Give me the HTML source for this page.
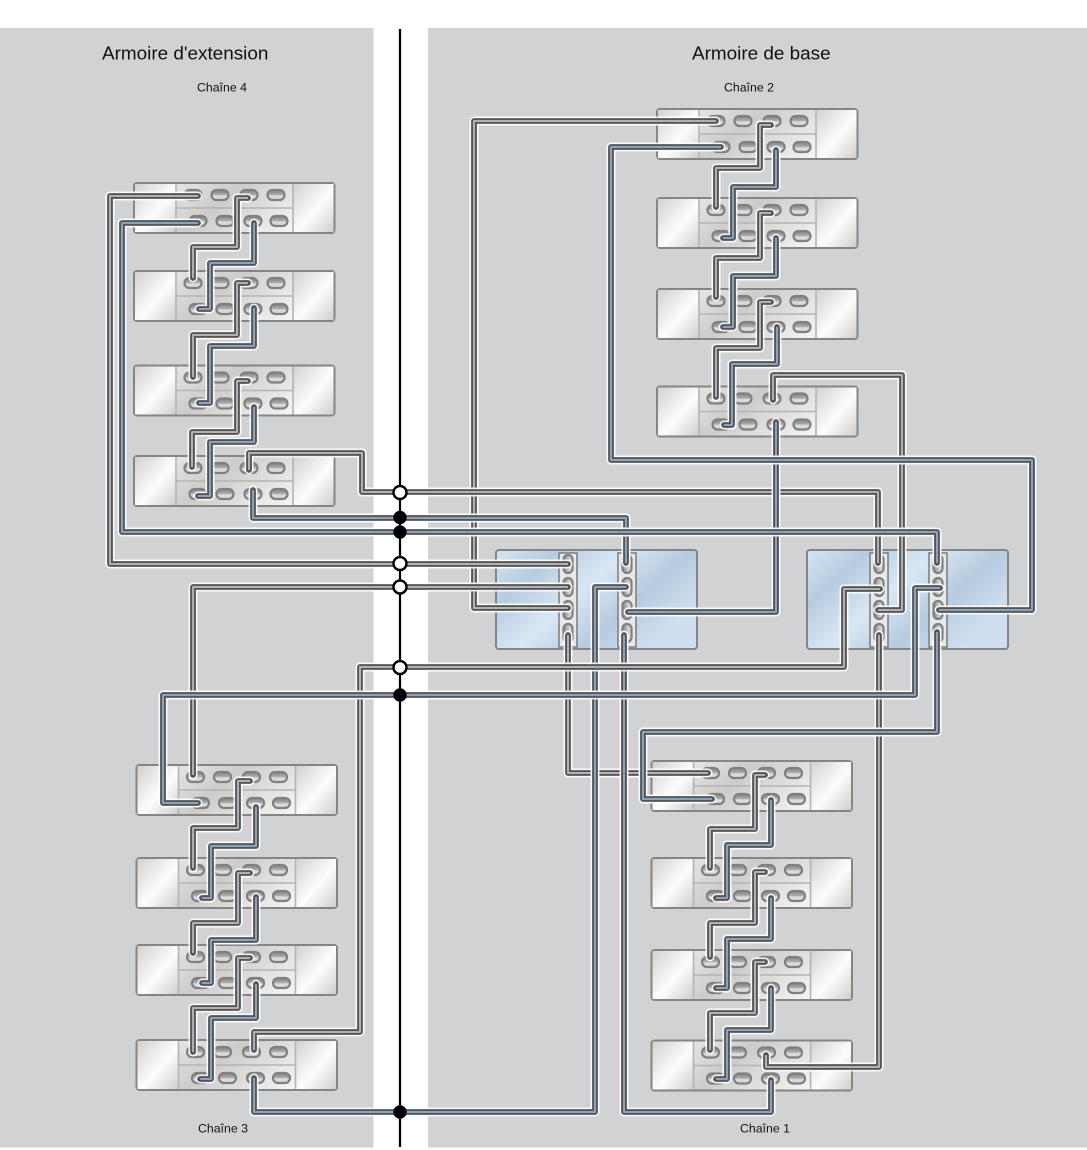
<!DOCTYPE html>
<html><head><meta charset="utf-8"><title>Armoire</title>
<style>
html,body{margin:0;padding:0;background:#fff}
svg{display:block}
text{font-family:"Liberation Sans",sans-serif;fill:#111}
.h,.d,.g,.b{fill:none;stroke-linejoin:round;stroke-linecap:round}
.h{stroke:#fff;stroke-width:9;stroke-opacity:.88}
.d{stroke:#55575b;stroke-width:5.8}
.g{stroke:#b0b0b2;stroke-width:2;stroke-linecap:butt}
.b{stroke:#8aa3bb;stroke-width:2;stroke-linecap:butt}
</style></head><body>
<svg xmlns="http://www.w3.org/2000/svg" width="1087" height="1150" viewBox="0 0 1087 1150">
<defs>
<linearGradient id="m" x1="0" y1="0" x2="1" y2="1"><stop offset="0" stop-color="#d2d1cf"/><stop offset=".55" stop-color="#fdfdfd"/><stop offset="1" stop-color="#cfcecc"/></linearGradient>
<linearGradient id="c" x1="0" y1="0" x2="1" y2=".3"><stop offset="0" stop-color="#f5f5f5"/><stop offset=".5" stop-color="#cdccca"/><stop offset="1" stop-color="#f6f6f6"/></linearGradient>
<linearGradient id="p" x1="0" y1="0" x2="0" y2="1"><stop offset="0" stop-color="#808080"/><stop offset=".45" stop-color="#aaa"/><stop offset=".6" stop-color="#ddd"/><stop offset="1" stop-color="#d4d4d4"/></linearGradient>
<linearGradient id="pv" x1="0" y1="0" x2="1" y2="0"><stop offset="0" stop-color="#808080"/><stop offset=".5" stop-color="#c0c0c0"/><stop offset="1" stop-color="#eee"/></linearGradient>
<linearGradient id="hb" x1="0" y1="0" x2="1" y2=".55"><stop offset="0" stop-color="#d6e5f3"/><stop offset=".24" stop-color="#b7cce0"/><stop offset=".5" stop-color="#d9e7f4"/><stop offset=".75" stop-color="#b6cbdf"/><stop offset="1" stop-color="#cfdff0"/></linearGradient>
<g id="po"><rect x="-8.500" y="-5" width="17" height="10" rx="5" fill="url(#p)" stroke="#808080" stroke-width="2.200"/></g>
<g id="pw"><rect x="-4.500" y="-9" width="9" height="18" rx="4.500" fill="url(#pv)" stroke="#808080" stroke-width="2.200"/></g>
<g id="s">
<rect x="0" y="0" width="200.500" height="50" rx="3" fill="url(#c)" stroke="#858585" stroke-width="2"/>
<rect x="1" y="1" width="41" height="48" fill="url(#m)"/>
<rect x="159" y="1" width="40.500" height="48" fill="url(#m)"/>
<path d="M42 1V49M159 1V49M42 25H159" stroke="#b4b4b4" stroke-width="1.600" fill="none"/>
<use href="#po" x="59" y="12"/><use href="#po" x="86" y="12"/><use href="#po" x="115" y="12"/><use href="#po" x="142" y="12"/>
<use href="#po" x="64" y="38"/><use href="#po" x="91" y="38"/><use href="#po" x="119" y="38"/><use href="#po" x="145" y="38"/>
</g>
<g id="hba">
<rect x="0" y="0" width="201" height="99" rx="3" fill="url(#hb)" stroke="#858585" stroke-width="2"/>
<rect x="63" y="3" width="18" height="94" fill="#e6e8ea" stroke="#7a7a7a" stroke-width="1.500"/>
<rect x="122" y="3" width="18" height="94" fill="#e6e8ea" stroke="#7a7a7a" stroke-width="1.500"/>
<use href="#pw" x="72" y="14"/><use href="#pw" x="72" y="37"/><use href="#pw" x="72" y="60"/><use href="#pw" x="72" y="83"/>
<use href="#pw" x="131" y="14"/><use href="#pw" x="131" y="37"/><use href="#pw" x="131" y="60"/><use href="#pw" x="131" y="83"/>
</g>
</defs>
<rect x="0" y="28" width="373.500" height="1119.500" fill="#d1d2d4"/>
<rect x="428" y="28" width="659" height="1119.500" fill="#d1d2d4"/>
<text x="102" y="59.500" font-size="18.900">Armoire d'extension</text>
<text x="692" y="59.500" font-size="18.900">Armoire de base</text>
<text x="197" y="91.500" font-size="12.300">Chaîne 4</text>
<text x="724" y="91.500" font-size="12.300">Chaîne 2</text>
<text x="198" y="1132.500" font-size="12.300">Chaîne 3</text>
<text x="740" y="1132.500" font-size="12.300">Chaîne 1</text>

<use href="#s" x="657" y="109"/><use href="#s" x="657" y="198"/><use href="#s" x="657" y="289"/><use href="#s" x="657" y="386.500"/>
<use href="#s" x="134" y="183"/><use href="#s" x="134" y="271"/><use href="#s" x="134" y="365.500"/><use href="#s" x="134" y="456"/>
<use href="#s" x="136.500" y="765"/><use href="#s" x="136.500" y="858"/><use href="#s" x="136.500" y="945"/><use href="#s" x="136.500" y="1040"/>
<use href="#s" x="651.500" y="761"/><use href="#s" x="651.500" y="858"/><use href="#s" x="651.500" y="950"/><use href="#s" x="651.500" y="1040.500"/>
<use href="#hba" x="496" y="550"/><use href="#hba" x="807" y="550"/>

<path class="h" d="M568 635V773H708"/><path class="d" d="M568 635V773H708"/><path class="g" d="M568 635V773H708"/>
<path class="h" d="M716 121H474V608H568"/><path class="d" d="M716 121H474V608H568"/><path class="g" d="M716 121H474V608H568"/>
<path class="h" d="M568 587H193V775"/><path class="d" d="M568 587H193V775"/><path class="g" d="M568 587H193V775"/>
<path class="h" d="M198 196H110V564H568"/><path class="d" d="M198 196H110V564H568"/><path class="g" d="M198 196H110V564H568"/>
<path class="h" d="M249 470V453H362V492H878V563"/><path class="d" d="M249 470V453H362V492H878V563"/><path class="g" d="M249 470V453H362V492H878V563"/>
<path class="h" d="M253 490V518H626V563"/><path class="d" d="M253 490V518H626V563"/><path class="b" d="M253 490V518H626V563"/>
<path class="h" d="M626 587H595V1112H254V1078"/><path class="d" d="M626 587H595V1112H254V1078"/><path class="b" d="M626 587H595V1112H254V1078"/>
<path class="h" d="M624 635V1112H771V1080"/><path class="d" d="M624 635V1112H771V1080"/><path class="b" d="M624 635V1112H771V1080"/>
<path class="h" d="M776 422V612H628"/><path class="d" d="M776 422V612H628"/><path class="b" d="M776 422V612H628"/>
<path class="h" d="M773 400V375H902V610H878"/><path class="d" d="M773 400V375H902V610H878"/><path class="g" d="M773 400V375H902V610H878"/>
<path class="h" d="M721 147H611V460H1032V610H939"/><path class="d" d="M721 147H611V460H1032V610H939"/><path class="b" d="M721 147H611V460H1032V610H939"/>
<path class="h" d="M879 635V1067H766V1055"/><path class="d" d="M879 635V1067H766V1055"/><path class="g" d="M879 635V1067H766V1055"/>
<path class="h" d="M880 589H844V667H360V1032H254V1050"/><path class="d" d="M880 589H844V667H360V1032H254V1050"/><path class="g" d="M880 589H844V667H360V1032H254V1050"/>
<path class="h" d="M940 588H915V695H163V803H198"/><path class="d" d="M940 588H915V695H163V803H198"/><path class="b" d="M940 588H915V695H163V803H198"/>
<path class="h" d="M937 632V732H643V799H712"/><path class="d" d="M937 632V732H643V799H712"/><path class="b" d="M937 632V732H643V799H712"/>
<path class="h" d="M198 223H122V532H937V563"/><path class="d" d="M198 223H122V532H937V563"/><path class="b" d="M198 223H122V532H937V563"/>

<path class="h" d="M771 125H760V168H716V207"/><path class="d" d="M771 125H760V168H716V207"/><path class="g" d="M771 125H760V168H716V207"/>
<path class="h" d="M776 150V187H733V238H723"/><path class="d" d="M776 150V187H733V238H723"/><path class="b" d="M776 150V187H733V238H723"/>
<path class="h" d="M771 213H760V258H716V297"/><path class="d" d="M771 213H760V258H716V297"/><path class="g" d="M771 213H760V258H716V297"/>
<path class="h" d="M776 238V276H733V327H723"/><path class="d" d="M776 238V276H733V327H723"/><path class="b" d="M776 238V276H733V327H723"/>
<path class="h" d="M771 302H760V348H716V397"/><path class="d" d="M771 302H760V348H716V397"/><path class="g" d="M771 302H760V348H716V397"/>
<path class="h" d="M777 327V364H732V425H724"/><path class="d" d="M777 327V364H732V425H724"/><path class="b" d="M777 327V364H732V425H724"/>

<path class="h" d="M248 198H237V247H193V278"/><path class="d" d="M248 198H237V247H193V278"/><path class="g" d="M248 198H237V247H193V278"/>
<path class="h" d="M254 223V263H210V309H199"/><path class="d" d="M254 223V263H210V309H199"/><path class="b" d="M254 223V263H210V309H199"/>
<path class="h" d="M248 283H237V335H193V377"/><path class="d" d="M248 283H237V335H193V377"/><path class="g" d="M248 283H237V335H193V377"/>
<path class="h" d="M254 308V346H210V403H199"/><path class="d" d="M254 308V346H210V403H199"/><path class="b" d="M254 308V346H210V403H199"/>
<path class="h" d="M248 381H237V432H192V467"/><path class="d" d="M248 381H237V432H192V467"/><path class="g" d="M248 381H237V432H192V467"/>
<path class="h" d="M254 407V442H210V496H198"/><path class="d" d="M254 407V442H210V496H198"/><path class="b" d="M254 407V442H210V496H198"/>

<path class="h" d="M250 781H238V828H193V868"/><path class="d" d="M250 781H238V828H193V868"/><path class="g" d="M250 781H238V828H193V868"/>
<path class="h" d="M256 807V846H211V898H202"/><path class="d" d="M256 807V846H211V898H202"/><path class="b" d="M256 807V846H211V898H202"/>
<path class="h" d="M250 873H238V923H193V953"/><path class="d" d="M250 873H238V923H193V953"/><path class="g" d="M250 873H238V923H193V953"/>
<path class="h" d="M256 897V940H211V983H202"/><path class="d" d="M256 897V940H211V983H202"/><path class="b" d="M256 897V940H211V983H202"/>
<path class="h" d="M250 958H238V1008H193V1052"/><path class="d" d="M250 958H238V1008H193V1052"/><path class="g" d="M250 958H238V1008H193V1052"/>
<path class="h" d="M256 984V1018H211V1079H200"/><path class="d" d="M256 984V1018H211V1079H200"/><path class="b" d="M256 984V1018H211V1079H200"/>

<path class="h" d="M765 775H755V829H710V868"/><path class="d" d="M765 775H755V829H710V868"/><path class="g" d="M765 775H755V829H710V868"/>
<path class="h" d="M771 800V845H727V898H716"/><path class="d" d="M771 800V845H727V898H716"/><path class="b" d="M771 800V845H727V898H716"/>
<path class="h" d="M765 872H755V923H710V957"/><path class="d" d="M765 872H755V923H710V957"/><path class="g" d="M765 872H755V923H710V957"/>
<path class="h" d="M771 898V939H727V988H716"/><path class="d" d="M771 898V939H727V988H716"/><path class="b" d="M771 898V939H727V988H716"/>
<path class="h" d="M765 962H755V1013H710V1050"/><path class="d" d="M765 962H755V1013H710V1050"/><path class="g" d="M765 962H755V1013H710V1050"/>
<path class="h" d="M771 988V1030H727V1079H716"/><path class="d" d="M771 988V1030H727V1079H716"/><path class="b" d="M771 988V1030H727V1079H716"/>

<path d="M400 29V1147" stroke="#000" stroke-width="2.200" fill="none"/>
<g fill="#fff" stroke="#000" stroke-width="2.400">
<circle cx="400" cy="492.500" r="6.500"/><circle cx="400" cy="563.500" r="6.500"/><circle cx="400" cy="587" r="6.500"/><circle cx="400" cy="667.500" r="6.500"/>
</g>
<g fill="#000" stroke="#000" stroke-width="2.400">
<circle cx="400" cy="517.500" r="5.500"/><circle cx="400" cy="532" r="5.500"/><circle cx="400" cy="695" r="5.500"/><circle cx="400" cy="1112" r="5.500"/>
</g>
</svg>
</body></html>
